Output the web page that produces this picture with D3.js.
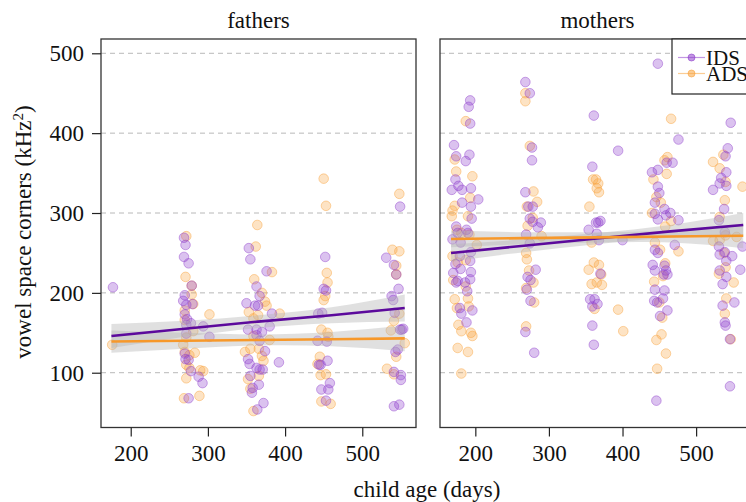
<!DOCTYPE html>
<html><head><meta charset="utf-8">
<script src="https://cdnjs.cloudflare.com/ajax/libs/d3/7.8.5/d3.min.js"></script>
<style>
html,body{margin:0;padding:0;background:#fff;}
svg{display:block;font-family:"Liberation Serif","DejaVu Serif",serif;}
</style></head>
<body><svg id="chart" width="746" height="502"></svg>
<script>
const panels = ["fathers", "mothers"];
const groups = ["IDS", "ADS"];
const yTicks = [100, 200, 300, 400, 500];
const xTicks = [200, 300, 400, 500];

const fathersIDS = [
[177,207],
[269,269],[271,260],[269,245],[275,237],[279,209],[270,197],[268,190],[272,185],[280,186],[270,173],[273,167],[278,162],[272,160],[294,158],[302,145],[272,149],[271,117],[275,116],[278,102],[288,95],[293,87],[275,68],[270,124],
[353,256],[355,242],[376,227],[363,208],[367,196],[350,187],[361,184],[365,184],[383,174],[352,154],[363,154],[370,151],[380,158],[363,147],[367,140],[374,127],[392,113],[352,117],[354,111],[363,106],[367,104],[371,104],[355,96],[358,81],[357,75],[366,85],[372,62],[364,54],
[452,245],[450,205],[453,203],[443,174],[448,175],[442,140],[454,139],[446,110],[455,115],[444,110],[458,87],[447,79],[456,79],[453,65],
[549,308],[531,244],[541,235],[544,223],[547,205],[538,196],[540,191],[542,175],[551,154],[553,155],[549,154],[546,129],[543,126],[541,101],[550,97],[550,91],[541,58],[548,60]
];
const fathersADS = [
[176,135],
[272,271],[271,220],[279,209],[279,198],[281,186],[270,178],[302,173],[270,166],[281,152],[272,144],[268,135],[283,125],[270,126],[272,110],[276,106],[290,103],[294,102],[272,93],[269,68],[289,71],[276,122],
[364,285],[362,258],[383,226],[360,217],[370,200],[374,189],[376,184],[353,176],[393,174],[365,172],[359,168],[380,141],[359,146],[348,126],[355,130],[370,121],[372,115],[366,96],[352,92],[355,80],[359,52],[366,130],
[450,343],[453,309],[454,225],[455,213],[452,196],[450,191],[447,154],[455,150],[456,145],[445,120],[442,111],[446,97],[453,98],[447,64],[459,61],
[548,324],[539,254],[548,252],[544,234],[544,223],[548,174],[541,165],[537,153],[555,137],[544,120],[532,105],[541,98]
];
const mothersIDS = [
[193,441],[191,433],[193,412],[171,385],[174,371],[192,373],[187,365],[173,342],[177,334],[168,329],[182,329],[194,331],[204,317],[194,308],[182,313],[195,293],[174,283],[188,279],[176,275],[190,275],[169,267],[180,263],[194,251],[193,240],[179,246],[173,236],[180,230],[170,225],[194,226],[176,215],[174,213],[193,217],[186,213],[189,202],[179,181],[181,174],[196,178],[188,163],
[268,464],[274,450],[277,382],[277,366],[268,326],[278,308],[272,308],[274,293],[278,289],[289,288],[285,282],[269,273],[274,262],[282,229],[271,220],[275,216],[270,204],[275,190],[268,151],[280,125],
[361,422],[394,378],[359,358],[354,279],[364,288],[367,288],[370,290],[365,274],[368,266],[400,266],[370,224],[356,192],[362,192],[359,183],[366,186],[359,159],[361,135],
[448,487],[476,392],[440,351],[448,354],[460,363],[468,363],[448,333],[450,325],[444,313],[457,305],[465,300],[444,299],[459,297],[476,291],[448,292],[471,260],[444,254],[448,250],[441,235],[444,228],[457,234],[459,228],[461,223],[456,223],[457,203],[444,204],[447,188],[443,190],[455,193],[461,178],[451,171],[446,65],
[547,413],[543,381],[540,371],[541,351],[534,344],[523,329],[532,337],[541,334],[538,305],[531,291],[539,276],[563,258],[531,258],[539,251],[532,248],[549,246],[541,240],[532,228],[560,229],[541,220],[536,211],[552,188],[536,184],[539,163],[540,159],[546,142],[546,83]
];
const mothersADS = [
[187,415],[172,367],[174,352],[196,346],[193,319],[172,309],[168,296],[190,296],[169,303],[175,279],[181,275],[192,273],[202,260],[169,246],[176,238],[187,241],[170,216],[187,208],[172,192],[175,181],[191,183],[190,193],[177,160],[181,152],[196,146],[194,150],[176,131],[190,126],[181,99],
[268,450],[268,440],[274,384],[279,327],[284,314],[270,308],[278,294],[271,284],[290,271],[269,250],[270,242],[273,228],[279,213],[269,206],[280,188],[269,158],
[360,342],[364,342],[367,337],[365,331],[368,326],[355,308],[358,263],[354,229],[361,238],[368,235],[371,223],[358,211],[365,213],[372,210],[362,180],[394,179],[401,152],
[466,418],[461,370],[457,366],[442,342],[460,349],[446,320],[452,313],[440,300],[466,290],[458,283],[444,263],[476,252],[451,254],[458,237],[455,221],[443,214],[450,188],[454,169],[453,148],[446,141],[459,124],[447,105],
[523,364],[537,373],[532,356],[563,333],[540,339],[539,316],[532,295],[540,272],[523,265],[532,266],[555,270],[540,232],[531,224],[551,213],[541,193],[539,174],[547,142],[538,250]
];

const fathersFitAges = [175, 270, 365, 460, 555];
const fathersIDSFit = [146, 155, 164, 172, 181];
const fathersIDSLo  = [131, 145, 156, 162, 164];
const fathersIDSHi  = [161, 165, 172, 182, 198];
const fathersADSFit = [139, 140, 141, 142, 143];
const fathersADSLo  = [125, 130, 134, 133, 127];
const fathersADSHi  = [153, 150, 148, 151, 159];

const mothersFitAges = [167, 266, 365, 465, 564];
const mothersIDSFit = [250, 259, 268, 277, 285];
const mothersIDSLo  = [239, 251, 261, 269, 271];
const mothersIDSHi  = [261, 267, 275, 285, 300];
const mothersADSFit = [267.5, 268.5, 269.5, 270.5, 271.6];
const mothersADSLo  = [257, 261, 263, 263, 256];
const mothersADSHi  = [278, 276, 276, 278, 287];

const pointColor = {IDS: "#9040cc", ADS: "#f8a23c"};
const lineColor = {IDS: "#5c0a9c", ADS: "#f7982a"};

const svg = d3.select("#chart");
const y = d3.scaleLinear().domain([31.4, 517.9]).range([427.5, 39]);
const xs = {
  fathers: d3.scaleLinear().domain([161.5, 569.6]).range([101, 416]),
  mothers: d3.scaleLinear().domain([152, 580]).range([440, 755])
};
const data = {
  fathers: {IDS: fathersIDS, ADS: fathersADS, ages: fathersFitAges,
    fit: {IDS: fathersIDSFit, ADS: fathersADSFit}, lo: {IDS: fathersIDSLo, ADS: fathersADSLo}, hi: {IDS: fathersIDSHi, ADS: fathersADSHi}},
  mothers: {IDS: mothersIDS, ADS: mothersADS, ages: mothersFitAges,
    fit: {IDS: mothersIDSFit, ADS: mothersADSFit}, lo: {IDS: mothersIDSLo, ADS: mothersADSLo}, hi: {IDS: mothersIDSHi, ADS: mothersADSHi}}
};
const FS = 23;

panels.forEach(p => {
  const x = xs[p];
  const [x0, x1] = x.range();
  const g = svg.append("g");
  g.selectAll("line.grid").data(yTicks).join("line")
    .attr("x1", x0).attr("x2", x1).attr("y1", d => y(d)).attr("y2", d => y(d))
    .attr("stroke", "#b8b8b8").attr("stroke-width", 1).attr("stroke-dasharray", "5,4");
  ["ADS", "IDS"].forEach(k => {
    g.selectAll(null).data(data[p][k]).join("circle")
      .attr("cx", d => x(d[0])).attr("cy", d => y(d[1])).attr("r", 4.8)
      .attr("fill", pointColor[k]).attr("fill-opacity", k === "IDS" ? 0.32 : 0.3)
      .attr("stroke", pointColor[k]).attr("stroke-opacity", 0.45).attr("stroke-width", 1);
  });
  const ages = data[p].ages;
  groups.forEach(k => {
    const band = ages.map((a, i) => ({a, lo: data[p].lo[k][i], hi: data[p].hi[k][i]}));
    g.append("path").datum(band)
      .attr("d", d3.area().x(d => x(d.a)).y0(d => y(d.lo)).y1(d => y(d.hi)).curve(d3.curveNatural))
      .attr("fill", "#b4b4b4").attr("fill-opacity", 0.42);
  });
  groups.forEach(k => {
    const fit = ages.map((a, i) => [a, data[p].fit[k][i]]);
    g.append("path").datum(fit)
      .attr("d", d3.line().x(d => x(d[0])).y(d => y(d[1])))
      .attr("fill", "none").attr("stroke", lineColor[k]).attr("stroke-width", 2.6);
  });
  g.append("rect").attr("x", x0).attr("y", 39).attr("width", x1 - x0).attr("height", 427.5 - 39)
    .attr("fill", "none").attr("stroke", "#333").attr("stroke-width", 1.3);
  const xa = svg.append("g").attr("transform", "translate(0,427.5)")
    .call(d3.axisBottom(x).tickValues(xTicks).tickSize(9).tickPadding(8).tickFormat(d3.format("d")));
  xa.select(".domain").remove();
  xa.selectAll("line").attr("stroke", "#222").attr("stroke-width", 1.2);
  xa.selectAll("text").attr("font-size", FS).attr("font-family", "Liberation Serif").attr("fill", "#111");
  svg.append("text").attr("x", (x0 + Math.min(x1, 755)) / 2).attr("y", 28)
    .attr("text-anchor", "middle").attr("font-size", FS).attr("fill", "#111").text(p);
});

const ya = svg.append("g").attr("transform", "translate(101,0)")
  .call(d3.axisLeft(y).tickValues(yTicks).tickSize(9).tickPadding(8));
ya.select(".domain").remove();
ya.selectAll("line").attr("stroke", "#222").attr("stroke-width", 1.2);
ya.selectAll("text").attr("font-size", FS).attr("font-family", "Liberation Serif").attr("fill", "#111");

const yt = svg.append("text").attr("transform", "translate(31,232) rotate(-90)")
  .attr("text-anchor", "middle").attr("font-size", FS).attr("fill", "#111");
yt.append("tspan").text("vowel space corners (kHz");
yt.append("tspan").attr("baseline-shift", "super").attr("font-size", 15).text("2");
yt.append("tspan").text(")");
svg.append("text").attr("x", 427).attr("y", 497).attr("text-anchor", "middle")
  .attr("font-size", FS).attr("fill", "#111").text("child age (days)");

const lg = svg.append("g");
lg.append("rect").attr("x", 672).attr("y", 39).attr("width", 110).attr("height", 55)
  .attr("fill", "#fff").attr("stroke", "#222").attr("stroke-width", 1.2);
groups.forEach((k, i) => {
  const ly = 57.5 + i * 16;
  lg.append("line").attr("x1", 678).attr("x2", 705).attr("y1", ly).attr("y2", ly)
    .attr("stroke", pointColor[k]).attr("stroke-opacity", 0.55).attr("stroke-width", 1.2);
  lg.append("circle").attr("cx", 691.5).attr("cy", ly).attr("r", 3.5)
    .attr("fill", pointColor[k]).attr("fill-opacity", 0.55).attr("stroke", pointColor[k]).attr("stroke-opacity", 0.6);
  lg.append("text").attr("x", 706).attr("y", ly + 7).attr("font-size", 21).attr("fill", "#111").text(k);
});
</script></body></html>
